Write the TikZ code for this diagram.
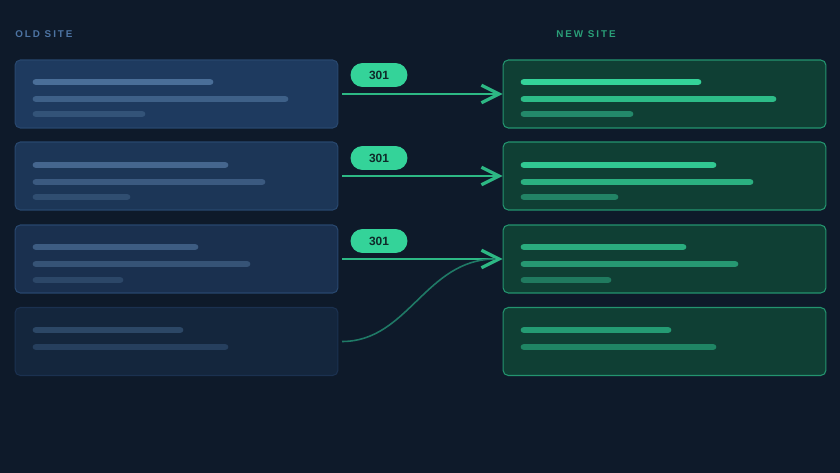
\documentclass[tikz,border=0pt]{standalone}
\usepackage{fontspec}
\setmainfont{Liberation Sans}
\newfontfamily\headfont[LetterSpace=20]{Liberation Sans}
\usetikzlibrary{arrows.meta,positioning}

\definecolor{bg}{HTML}{0E1A2A}
\definecolor{oldhead}{HTML}{4D74A3}
\definecolor{newhead}{HTML}{2A9F78}
\definecolor{oldfillA}{HTML}{1E3A5F}
\definecolor{oldfillB}{HTML}{1C3657}
\definecolor{oldfillC}{HTML}{1A304F}
\definecolor{oldfillD}{HTML}{14263D}
\definecolor{oldline}{HTML}{28476E}
\definecolor{oldlineD}{HTML}{1B3150}
\definecolor{newfill}{HTML}{0F3F34}
\definecolor{newline}{HTML}{23946F}
\definecolor{mint}{HTML}{34D399}
\definecolor{arrowgreen}{HTML}{2DB884}
\definecolor{curvegreen}{HTML}{1F7A66}
\definecolor{badgetext}{HTML}{0F2A2A}

\begin{document}
\begin{tikzpicture}[x=0.02cm, y=-0.02cm,
    box/.style={line width=0.6pt, rounded corners=3pt, minimum width=6.46cm, minimum height=1.36cm, inner sep=0pt},
    oldbox/.style={box, draw=oldline},
    newbox/.style={box, draw=newline, fill=newfill},
    bar/.style={line width=3.8pt, line cap=round},
    badge/.style={fill=mint, text=badgetext, rounded corners=0.24cm, minimum width=1.14cm, minimum height=0.48cm, inner sep=0pt, font=\fontsize{6.8}{7}\selectfont\bfseries},
    redir/.style={draw=arrowgreen, line width=1.2pt, shorten <=2pt, -{Straight Barb[length=10pt, width=10pt, line width=1.8pt]}},
    heading/.style={anchor=west, inner sep=0pt, font=\headfont\bfseries\fontsize{5.6}{7}\selectfont}]

    % Hintergrund
    \fill[bg] (0,0) rectangle (840,473);
    \useasboundingbox (0,0) rectangle (840,473);

    % Überschriften
    \node[heading, text=oldhead] (oldtitle) at (15,34.5) {OLD SITE};
    \node[heading, text=newhead] (newtitle) at (556,34.5) {NEW SITE};

    % alte Seiten
    \node[oldbox, fill=oldfillA] (old1) at (176.5,94) {};
    \node[oldbox, fill=oldfillB] (old2) at (176.5,176) {};
    \node[oldbox, fill=oldfillC] (old3) at (176.5,259) {};
    \node[oldbox, fill=oldfillD, draw=oldlineD] (old4) at (176.5,341.5) {};

    % neue Seiten
    \node[newbox] (new1) at (664.5,94) {};
    \node[newbox] (new2) at (664.5,176) {};
    \node[newbox] (new3) at (664.5,259) {};
    \node[newbox] (new4) at (664.5,341.5) {};

    % Platzhalterzeilen alt
    \draw[bar, color={rgb,255:red,74;green,110;blue,152}] (36,82) -- (210,82);
    \draw[bar, color={rgb,255:red,62;green,96;blue,136}] (36,99) -- (285,99);
    \draw[bar, color={rgb,255:red,51;green,83;blue,120}] (36,114) -- (142,114);
    \draw[bar, color={rgb,255:red,69;green,102;blue,142}] (36,165) -- (225,165);
    \draw[bar, color={rgb,255:red,59;green,90;blue,128}] (36,182) -- (262,182);
    \draw[bar, color={rgb,255:red,48;green,78;blue,113}] (36,197) -- (127,197);
    \draw[bar, color={rgb,255:red,61;green,92;blue,130}] (36,247) -- (195,247);
    \draw[bar, color={rgb,255:red,54;green,83;blue,118}] (36,264) -- (247,264);
    \draw[bar, color={rgb,255:red,44;green,71;blue,104}] (36,280) -- (120,280);
    \draw[bar, color={rgb,255:red,44;green,71;blue,102}] (36,330) -- (180,330);
    \draw[bar, color={rgb,255:red,38;green,63;blue,94}] (36,347) -- (225,347);

    % Platzhalterzeilen neu
    \draw[bar, mint] (524,82) -- (698,82);
    \draw[bar, color={rgb,255:red,45;green,188;blue,136}] (524,99) -- (773,99);
    \draw[bar, color={rgb,255:red,35;green,137;blue,106}] (524,114) -- (630,114);
    \draw[bar, color={rgb,255:red,49;green,200;blue,146}] (524,165) -- (713,165);
    \draw[bar, color={rgb,255:red,43;green,176;blue,128}] (524,182) -- (750,182);
    \draw[bar, color={rgb,255:red,34;green,131;blue,101}] (524,197) -- (615,197);
    \draw[bar, color={rgb,255:red,42;green,172;blue,126}] (524,247) -- (683,247);
    \draw[bar, color={rgb,255:red,38;green,152;blue,114}] (524,264) -- (735,264);
    \draw[bar, color={rgb,255:red,32;green,122;blue,95}] (524,280) -- (608,280);
    \draw[bar, color={rgb,255:red,36;green,155;blue,115}] (524,330) -- (668,330);
    \draw[bar, color={rgb,255:red,31;green,133;blue,100}] (524,347) -- (713,347);

    % Weiterleitungen
    \draw[redir] (old1.east) -- (new1.west);
    \draw[redir] (old2.east) -- (new2.west);
    \draw[redir] (old3.east) -- (new3.west);
    \coordinate[left=4pt of new3.west] (merge);
    \draw[curvegreen, line width=0.9pt, shorten <=2pt] (old4.east) .. controls +(70,0) and +(-70,0) .. (merge);

    % 301-Marken
    \node[badge] (b1) at (379,75) {301};
    \node[badge] (b2) at (379,158) {301};
    \node[badge] (b3) at (379,241) {301};
\end{tikzpicture}
\end{document}
